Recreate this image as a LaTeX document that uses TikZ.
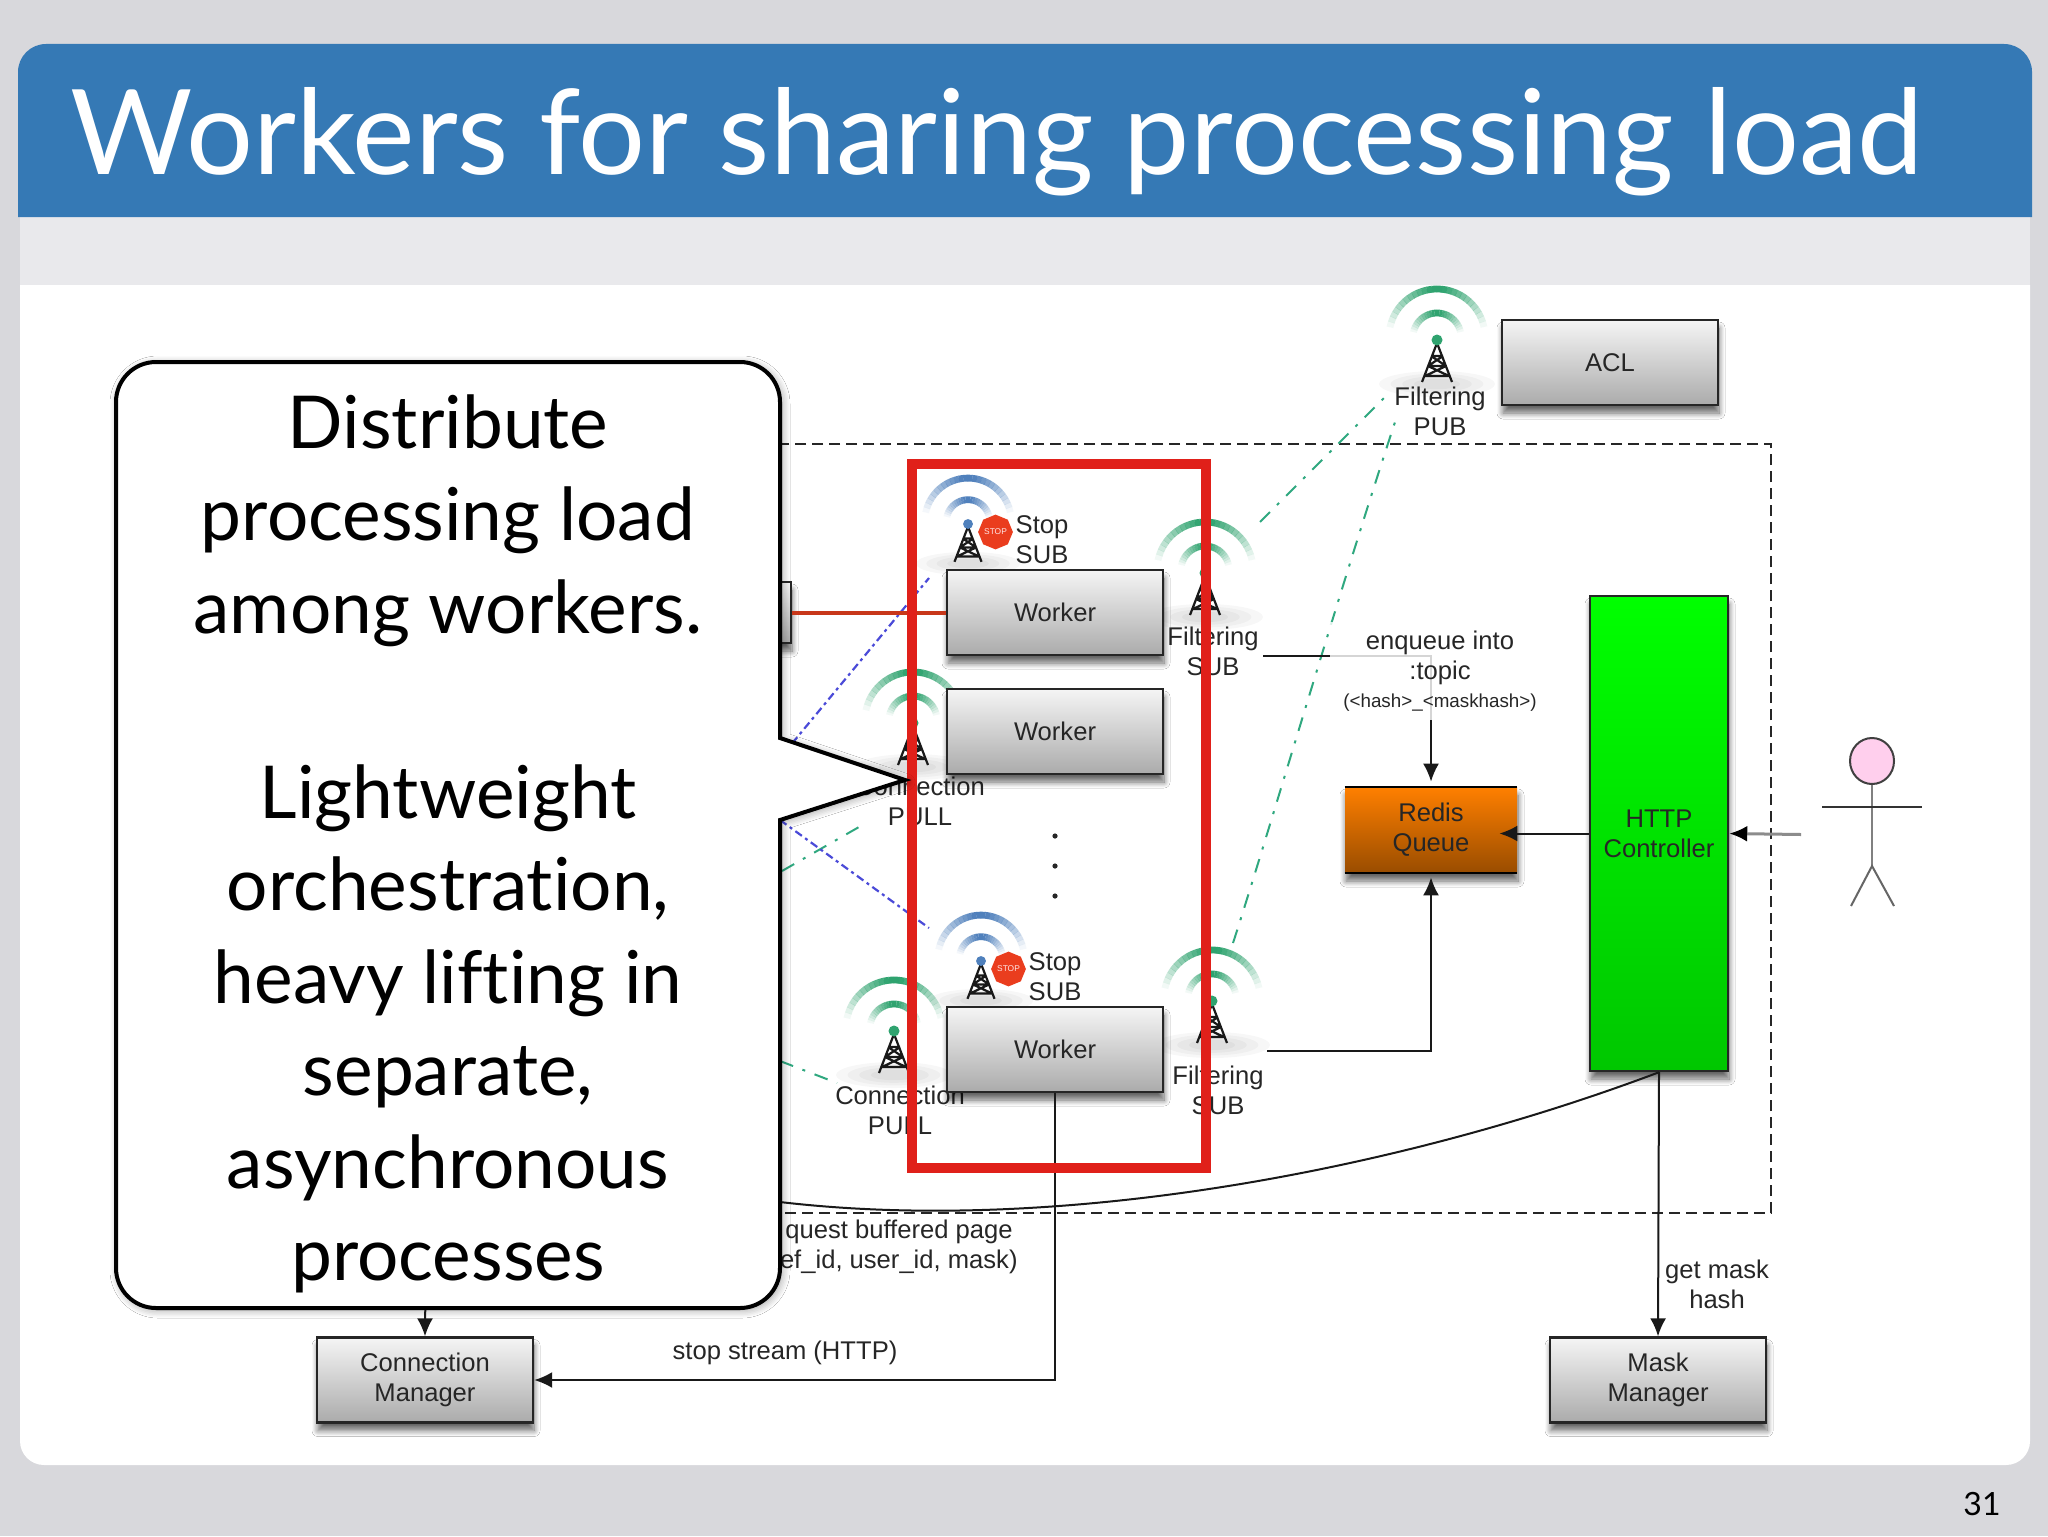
\documentclass[tikz,border=0pt]{standalone}
\usepackage{fontspec}
\setmainfont{Liberation Sans}
\newfontfamily\gill[Ligatures=NoCommon]{Lato}
\usetikzlibrary{arrows.meta,shapes.geometric,shadows.blur}
\definecolor{slidebg}{HTML}{D8D8DC}
\definecolor{bandgray}{HTML}{E9E9EC}
\definecolor{titleblue}{HTML}{3579B5}
\definecolor{redbox}{HTML}{E0201A}
\definecolor{redline}{HTML}{C8371A}
\definecolor{teal}{HTML}{2FA87F}
\definecolor{bluedash}{HTML}{4A4AD8}
\definecolor{wgreen}{HTML}{2FA36F}
\definecolor{wblue}{HTML}{4F80BC}
\definecolor{txt}{HTML}{262626}
\definecolor{stopred}{HTML}{EA3D1E}
\tikzset{
  softshadow/.style={blur shadow={shadow xshift=.5pt,shadow yshift=-4pt,shadow blur steps=8,shadow blur radius=3pt,shadow opacity=60}},
  greybox/.style={draw=black!85,line width=1.2pt,top color=white!96!black,bottom color=black!33,inner sep=0pt,softshadow,
     font=\fontsize{12.8}{15}\selectfont,text=txt,align=center},
  wbox/.style={greybox,minimum width=108pt,minimum height=42.5pt},
  lab/.style={font=\fontsize{12.8}{15}\selectfont,text=txt,align=center,inner sep=0pt},
  conn/.style={draw=black!90,line width=1pt},
  arr/.style={conn,-{Latex[length=9pt,width=8pt]}},
  tealdash/.style={draw=teal,line width=1pt,dash pattern=on 7pt off 5pt on 1.5pt off 5pt},
  bluedashed/.style={draw=bluedash,line width=1.1pt,dash pattern=on 4pt off 2pt on 1.5pt off 2pt},
}
\newcommand{\SignalArc}[3]{% radius, colour, thickness
  \foreach \a in {12,18,...,162}{
    \pgfmathsetmacro{\op}{max(0,min(1,1.1-abs(\a+3-90)/72))}
    \draw[draw=#2,line width=#3,opacity=\op] plot[domain=\a:\a+6.3,samples=3,smooth] ({#1*cos(\x)},{-#1*sin(\x)});
  }}
\newcommand{\Tower}[4]{% x, y of the dot, colour, scale
  \begin{scope}[shift={(#1,#2)},scale=#4]
    \foreach \e in {1,.8,.6,.4}{\fill[black,opacity=.03] (0,44) ellipse ({58*\e} and {13*\e});}
    \begin{scope}[shift={(0,-3)}]
      \SignalArc{48}{#3}{3.4pt}
      \SignalArc{24}{#3}{3.4pt}
    \end{scope}
    \draw[black!90,line width=1.1pt,line join=round] (0,3)--(-15,42) (0,3)--(15,42) (-6,16)--(6,16) (-9,26)--(9,26) (-12,36)--(12,36)
       (-6,16)--(9,26) (6,16)--(-9,26) (-9,26)--(12,36) (9,26)--(-12,36);
    \fill[#3] (0,0) circle (5.5);
  \end{scope}}
\newcommand{\StopSign}[3]{\node[regular polygon,regular polygon sides=8,shape border rotate=22.5,minimum size=16pt,inner sep=0pt,fill=stopred,text=white!90!red,font=\fontsize{4.2}{5}\selectfont] (#3) at (#1,#2) {STOP};}
\begin{document}
\begin{tikzpicture}[x=0.5pt,y=-0.5pt]
\useasboundingbox (0,0) rectangle (2048,1536);
% slide
\fill[slidebg] (0,0) rectangle (2048,1536);
\fill[bandgray] (20,217) rectangle (2030,285);
\fill[white] (20,285) -- (2030,285) -- (2030,1440) [rounded corners=12pt] -- (2030,1465) -- (20,1465) [sharp corners] -- (20,1440) -- cycle;
\fill[titleblue] (18,217) [rounded corners=14pt] -- (18,44) -- (2032,44) [sharp corners] -- (2032,217) -- cycle;
\node[text=white,font=\gill\fontsize{59.1}{60}\selectfont,inner sep=0pt] (title) at (997,142) {Workers for sharing processing load};
\node[font=\gill\fontsize{16}{18}\selectfont,inner sep=0pt] (pageno) at (1982,1504) {31};

% group box
\node[draw=black!85,line width=1pt,dash pattern=on 5.5pt off 3pt,minimum width=535.5pt,minimum height=384.5pt,inner sep=0pt] (group) at (1235.5,828.5) {};

% dash-dotted links
\coordinate (ta) at (1260,522); \coordinate (tb) at (1385,397);
\coordinate (tc) at (1233,943); \coordinate (td) at (1395,422);
\coordinate (te) at (782,871);  \coordinate (tf) at (866,823);
\coordinate (tg) at (780,1061); \coordinate (th) at (837,1083);
\coordinate (ba) at (780,758);  \coordinate (bb) at (929,578);
\coordinate (bc) at (780,820);  \coordinate (bd) at (929,928);
\draw[tealdash] (ta) -- (tb);
\draw[tealdash] (tc) .. controls (1268,835) and (1335,605) .. (td);
\draw[tealdash] (te) -- (tf);
\draw[tealdash] (tg) -- (th);
\draw[bluedashed] (ba) -- (bb);
\draw[bluedashed] (bc) -- (bd);

% antennas
\Tower{968}{524}{wblue}{.9}
\Tower{981}{961}{wblue}{.9}
\Tower{1205}{573}{wgreen}{1}
\Tower{1212}{1001}{wgreen}{1}
\Tower{913}{723}{wgreen}{1}
\Tower{894}{1031}{wgreen}{1}
\Tower{1437}{340}{wgreen}{1}
\StopSign{995.5}{532}{stopa}
\StopSign{1008.5}{969}{stopb}

% antenna labels
\node[lab] (stoplaba) at (1042,540) {Stop\\SUB};
\node[lab] (stoplabb) at (1055,977) {Stop\\SUB};
\node[lab] (filtlaba) at (1213,651) {Filtering\\SUB};
\node[lab] (filtlabb) at (1218,1090) {Filtering\\SUB};
\node[lab] (connlaba) at (920,801) {Connection\\PULL};
\node[lab] (connlabb) at (900,1110) {Connection\\PULL};
\node[lab] (pub) at (1440,411) {Filtering\\PUB};

% boxes
\node[greybox,minimum width=45.5pt,minimum height=30.5pt] (left) at (745.5,612.5) {};
\node[wbox] (wa) at (1055,612.5) {Worker};
\node[wbox] (wb) at (1055,731.5) {Worker};
\node[wbox] (wc) at (1055,1049.5) {Worker};
\node[wbox] (acl) at (1610,362.5) {ACL};
\node[wbox] (cm) at (425,1380) {Connection\\Manager};
\node[wbox] (mm) at (1658,1380) {Mask\\Manager};
\node[top color=orange!100!red,bottom color=orange!60!black,minimum width=86pt,minimum height=43pt,inner sep=0pt,softshadow,
      font=\fontsize{12.8}{15}\selectfont,text=black!85,align=center] (q) at (1431,830) {Redis\\Queue};
\draw[black,line width=1pt] (q.north west) -- (q.north east) (q.south west) -- (q.south east);
\node[draw=black!85,line width=1.2pt,top color=green!100,bottom color=green!78!black,minimum width=69pt,minimum height=237.5pt,inner sep=0pt,softshadow,
      font=\fontsize{12.8}{15}\selectfont,text=black!85,align=center] (http) at (1659,833.5) {HTTP\\Controller};

% dots
\foreach \y [count=\i] in {836,866,896}{\fill[black!85] (1055,\y) circle (2.6);}

% actor
\node[ellipse,draw=black!75,line width=1pt,fill=pink!70!magenta!40!white,minimum width=22pt,minimum height=23pt,inner sep=0pt] (head) at (1872,761) {};
\coordinate (hip) at (1872,866); \coordinate (arml) at (1822,807); \coordinate (armr) at (1922,807);
\coordinate (legl) at (1851,906); \coordinate (legr) at (1894,906);
\draw[black!50,line width=1.3pt] (head.south) -- (hip);
\draw[black!80,line width=1pt] (arml) -- (armr);
\draw[black!60,line width=1pt] (legl) -- (hip) -- (legr);

% connectors
\coordinate (ea) at (1263,656);
\coordinate (eb) at (1267,1051);
\coordinate (act) at (1801,834.5);
\draw[redline,line width=2pt] (left.east) -- (wa.west);
\draw[arr,shorten >=2.5pt] (ea) -| (q.north);
\draw[arr,shorten >=2pt] (eb) -| (q.south);
\draw[arr,shorten >=-9pt] (http.west) -- (http.west -| q.east);
\draw[draw=black!45,line width=1.5pt,-{Latex[length=9pt,width=8pt,color=black]}] (act) -- (http.east);
\draw[arr] (http.south) -- (mm.north);
\draw[arr] (wc.south) |- (cm.east);
\draw[arr] (http.south) .. controls (1400,1170) and (1060,1235) .. (780,1202) .. controls (600,1182) and (425,1190) .. (cm.north);

% edge labels
\node[lab,fill=white,fill opacity=.82,text opacity=1,minimum width=110pt,minimum height=49pt] (enq) at (1440,671) {enqueue into\\:topic\\[-1pt]{\fontsize{9.4}{11}\selectfont (<hash>\_<maskhash>)}};
\node[lab,anchor=east] (rqa) at (1013,1232) {quest buffered page};
\node[lab,anchor=east] (rqb) at (1018,1262) {ef\_id, user\_id, mask)};
\node[lab] (stopl) at (785,1353) {stop stream (HTTP)};
\node[lab] (mask) at (1717,1284) {get mask\\hash};

% highlight
\node[draw=redbox,line width=5pt,minimum width=147pt,minimum height=352pt,inner sep=0pt] (hl) at (1059,816) {};

% callout
\draw[black,line width=2pt,fill=white,blur shadow={shadow xshift=1pt,shadow yshift=-1pt,shadow blur steps=6,shadow blur radius=4pt,shadow opacity=40}]
  (780,738) -- (905,780) -- (780,820) [rounded corners=20pt] -- (780,1308) -- (116,1308) -- (116,362) -- (780,362) [sharp corners] -- cycle;
\node[font=\gill\fontsize{36.5}{46.25}\selectfont,align=center,inner sep=0pt,text=black] (calltext) at (448,844)
  {Distribute\\processing load\\among workers.\\\mbox{}\\Lightweight\\orchestration,\\heavy lifting in\\separate,\\asynchronous\\processes};
\end{tikzpicture}
\end{document}
